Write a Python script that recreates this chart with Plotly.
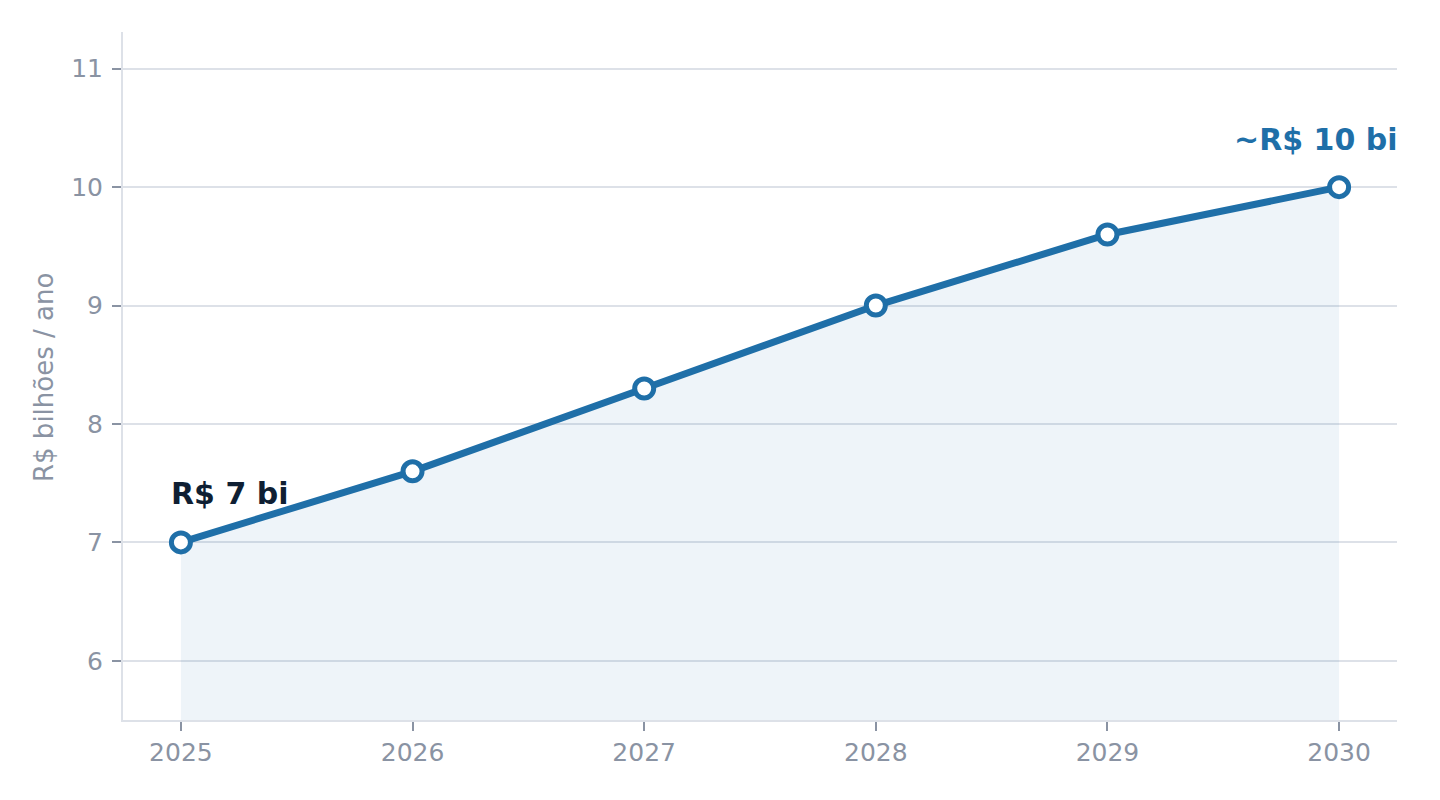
import plotly.graph_objects as go

# ------------------------------------------------------------------ #
# Data                                                               #
# ------------------------------------------------------------------ #
anos = [2025, 2026, 2027, 2028, 2029, 2030]
valores = [7.0, 7.6, 8.3, 9.0, 9.6, 10.0]
y_ticks = [6, 7, 8, 9, 10, 11]

azul = "#1f6fa8"
cinza = "#8a93a3"
grade = "#dde1e8"

fig = go.Figure()

# area under the curve
fig.add_trace(go.Scatter(
    x=anos, y=valores, mode="lines", fill="tozeroy",
    fillcolor="rgba(31,111,168,0.075)",
    line=dict(color="rgba(31,111,168,0.06)", width=1),
    hoverinfo="skip", showlegend=False,
))

# main line
fig.add_trace(go.Scatter(
    x=anos, y=valores, mode="lines+markers",
    line=dict(color=azul, width=7),
    marker=dict(size=19, color="white", line=dict(color=azul, width=5)),
    showlegend=False,
))

fig.add_annotation(x=anos[0], y=valores[0], text="<b>R$ 7 bi</b>",
                   showarrow=False, xanchor="left", yanchor="middle",
                   xshift=-12, yshift=49,
                   font=dict(size=30, color="#0f1f33", family="DejaVu Sans"))
fig.add_annotation(x=anos[-1], y=valores[-1], text="<b>~R$ 10 bi</b>",
                   showarrow=False, xanchor="right", yanchor="middle",
                   xshift=61, yshift=48,
                   font=dict(size=30, color=azul, family="DejaVu Sans"))

# y axis title, placed by hand
fig.add_annotation(xref="paper", yref="paper", x=0, y=0.5, xshift=-79, yshift=-2,
                   text="R$ bilhões / ano", textangle=-90, showarrow=False,
                   xanchor="center", yanchor="middle",
                   font=dict(size=26, color=cinza, family="DejaVu Sans"))

fig.update_layout(
    width=1424, height=784,
    margin=dict(l=115, r=35, t=24, b=72),
    paper_bgcolor="white", plot_bgcolor="white",
    font=dict(family="DejaVu Sans", size=25, color=cinza),
)
fig.update_xaxes(
    range=[2024.75, 2030.25], tickvals=anos, showgrid=False, zeroline=False,
    showline=True, linecolor=grade, linewidth=2,
    ticks="outside", ticklen=9, tickwidth=2, tickcolor=cinza,
    tickfont=dict(size=25, color=cinza),
)
fig.update_yaxes(
    range=[5.5, 11.31], tickvals=y_ticks, showgrid=True, gridcolor=grade,
    gridwidth=2, zeroline=False,
    showline=True, linecolor=grade, linewidth=2,
    ticks="outside", ticklen=9, tickwidth=2, tickcolor=cinza,
    tickfont=dict(size=25, color=cinza), ticklabelstandoff=4,
)

fig.write_html("out.html")
